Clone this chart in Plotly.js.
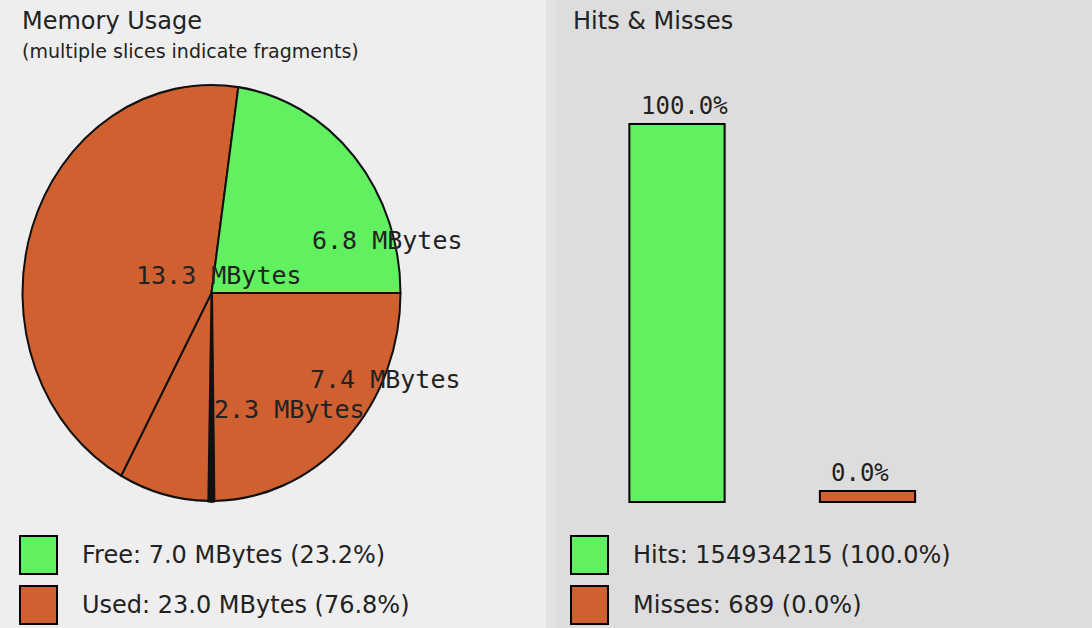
<!DOCTYPE html>
<html>
<head>
<meta charset="utf-8">
<script src="https://cdn.plot.ly/plotly-3.0.1.min.js"></script>
<style>
  html, body { margin: 0; padding: 0; background: #eeeeee; }
  #chart { width: 1092px; height: 628px; }
</style>
</head>
<body>
<div id="chart"></div>
<script>
// ---- Data ----
// Memory fragments (MBytes) in drawing order: starting at 3 o'clock, going clockwise
const fragmentNames = ["Used fragment 3", "Free fragment 3", "Free fragment 2", "Used fragment 2", "Used fragment 1", "Free fragment 1"];
const fragmentKinds = ["used", "free", "free", "used", "used", "free"];
const fragmentSizes = [7.44, 0.07, 0.07, 2.3, 13.3, 6.82];
const labelledFragments = [5, 4, 0, 3];

// Memory totals (MBytes)
const memoryKinds = ["Free", "Used"];
const memoryTotals = [6.96, 23.04];

// Cache hits & misses
const cacheKinds = ["Hits", "Misses"];
const cacheCounts = [154934215, 689];

// ---- Styling / layout helpers ----
const W = 1092, H = 628;
const px = x => x / W;
const py = y => 1 - y / H;
const GREEN = "#60f060", ORANGE = "#d06030";
const kindColor = { free: GREEN, used: ORANGE, Free: GREEN, Used: ORANGE, Hits: GREEN, Misses: ORANGE };
const TEXT = "#222222";
const SANS = "DejaVu Sans, sans-serif";
const MONO = "DejaVu Sans Mono, monospace";

// label anchor positions (left edge, vertical middle) for the labelled fragments
const fragLabelPos = { 5: [310, 241], 4: [134, 275], 0: [308, 379], 3: [212, 409] };
const barLabelShift = [7, -8];

// pie geometry: centre and radii (the original pie is slightly taller than wide)
const PIE_CX = 211.5, PIE_CY = 293, PIE_RX = 189, PIE_RY = 208;

const memTotal = memoryTotals.reduce((a, b) => a + b, 0);
const cacheTotal = cacheCounts.reduce((a, b) => a + b, 0);
const cachePct = cacheCounts.map(c => 100 * c / cacheTotal);
const barFloor = 3.0; // visual minimum bar height (in % units), as in the original graph

// ---- Traces ----
const pie = {
  type: "pie",
  labels: fragmentNames,
  values: fragmentSizes,
  sort: false,
  direction: "clockwise",
  rotation: 90,
  marker: {
    colors: fragmentKinds.map(k => kindColor[k]),
    line: { color: "#111111", width: fragmentSizes.map(v => v < 0.5 ? 3 : 2) }
  },
  textinfo: "none",
  hoverinfo: "none",
  showlegend: false,
  domain: { x: [px(PIE_CX - PIE_RX), px(PIE_CX + PIE_RX)], y: [py(PIE_CY + PIE_RX), py(PIE_CY - PIE_RX)] }
};

const bars = {
  type: "bar",
  x: cacheKinds,
  y: cachePct.map(p => p + barFloor),
  base: cachePct.map(() => -barFloor),
  width: 0.5,
  marker: { color: cacheKinds.map(k => kindColor[k]), line: { color: "#000000", width: 2 } },
  textinfo: "none",
  hoverinfo: "none",
  showlegend: false,
  cliponaxis: false,
  xaxis: "x",
  yaxis: "y"
};

// ---- Annotations ----
const annotations = [];
function addText(text, x, y, size, family, anchor) {
  annotations.push({
    text: text, xref: "paper", yref: "paper", x: px(x), y: py(y),
    xanchor: anchor || "left", yanchor: "middle", showarrow: false,
    font: { family: family, size: size, color: TEXT }
  });
}
addText("Memory Usage", 20, 21, 24, SANS);
addText("(multiple slices indicate fragments)", 20, 51, 19, SANS);
addText("Hits &amp; Misses", 571, 21, 24, SANS);

labelledFragments.forEach(i => {
  const p = fragLabelPos[i];
  addText(fragmentSizes[i].toFixed(1) + " MBytes", p[0], p[1], 25, MONO);
});

cacheKinds.forEach((k, i) => {
  annotations.push({
    text: cachePct[i].toFixed(1) + "%", xref: "x", yref: "y", x: k, y: cachePct[i],
    xanchor: "center", yanchor: "bottom", xshift: barLabelShift[i], yshift: 2, showarrow: false,
    font: { family: MONO, size: 24, color: TEXT }
  });
});

const legendRows = [555, 605];
const shapes = [
  { type: "rect", xref: "paper", yref: "paper", x0: 0.5, x1: 1, y0: 0, y1: 1, fillcolor: "#dddddd", line: { width: 0 }, layer: "below" },
  { type: "rect", xref: "paper", yref: "paper", x0: px(546), x1: px(556), y0: 0, y1: 1, fillcolor: "#e3e3e3", line: { width: 0 }, layer: "below" }
];
function addSwatch(x, yTop, color) {
  shapes.push({ type: "rect", xref: "paper", yref: "paper", x0: px(x), x1: px(x + 37), y0: py(yTop + 38), y1: py(yTop), fillcolor: color, line: { color: "#000000", width: 2 } });
}
memoryKinds.forEach((k, i) => {
  addSwatch(20, 536 + i * 50, kindColor[k]);
  addText(k + ": " + memoryTotals[i].toFixed(1) + " MBytes (" + (100 * memoryTotals[i] / memTotal).toFixed(1) + "%)", 80, legendRows[i], 24, SANS);
});
cacheKinds.forEach((k, i) => {
  addSwatch(571, 536 + i * 50, kindColor[k]);
  addText(k + ": " + cacheCounts[i] + " (" + cachePct[i].toFixed(1) + "%)", 631, legendRows[i], 24, SANS);
});

const layout = {
  width: W, height: H,
  margin: { l: 0, r: 0, t: 0, b: 0, pad: 0 },
  paper_bgcolor: "#eeeeee",
  plot_bgcolor: "rgba(0,0,0,0)",
  xaxis: { domain: [0.5, 1], range: [-0.6877, 2.1785], visible: false, fixedrange: true, type: "category" },
  yaxis: { domain: [0, 1], range: [-37.33, 133.79], visible: false, fixedrange: true },
  shapes: shapes,
  annotations: annotations,
  bargap: 0
};

Plotly.newPlot("chart", [pie, bars], layout, { displayModeBar: false, staticPlot: true }).then(gd => {
  // stretch the pie vertically into the slightly oval shape of the original
  const sy = PIE_RY / PIE_RX;
  const layer = gd.querySelector(".pielayer");
  if (layer) layer.setAttribute("transform", "matrix(1,0,0," + sy + ",0," + (PIE_CY * (1 - sy)) + ")");
});
</script>
</body>
</html>
